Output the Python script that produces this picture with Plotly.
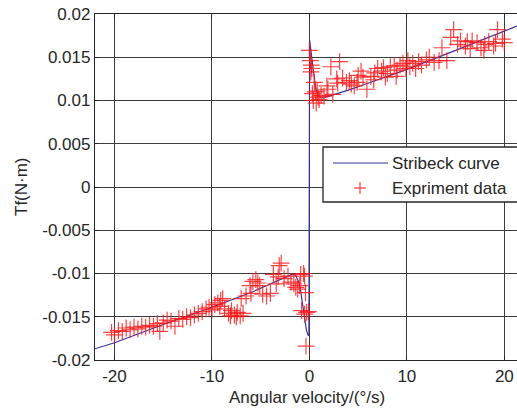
import plotly.graph_objects as go

# Stribeck model curve
curve_x = [-22, -20, -15, -10, -6, -4, -2.5, -1.8, -1.4, -1.1, -0.9, -0.7, -0.5, -0.3, -0.15, -0.05,
           0.02, 0.15, 0.35, 0.55, 0.75, 1.0, 1.4, 2, 4, 6, 10, 15, 21.3]
curve_y = [-0.0187, -0.0180, -0.0159, -0.0139, -0.0122, -0.0112, -0.0104, -0.0101, -0.0102, -0.0110,
           -0.0120, -0.0135, -0.0151, -0.0166, -0.0171, -0.0172,
           0.0170, 0.0160, 0.0140, 0.0122, 0.0110, 0.0104, 0.0103, 0.0105, 0.0112, 0.0120, 0.0136,
           0.0158, 0.0186]

# Experiment data, positive velocities
pos_x = [0.0, 0.1, 0.2, 0.25, 0.15, 0.5, 0.6, 0.3, 0.8, 1.0, 0.4, 0.7, 1.2, 0.9, 1.5,
         1.8, 1.9, 2.2, 3.1, 2.4, 2.8, 2.9, 3.4, 3.8, 4.1, 4.3, 4.6, 4.9, 5.0, 5.3, 5.5, 5.9,
         6.3, 6.7, 6.6, 7.0, 7.4, 7.6, 8.0, 8.3, 8.7, 9.0, 9.3, 9.6, 9.9, 8.9, 7.8,
         10.1, 10.3, 10.6, 10.9, 11.2, 11.5, 12.0, 12.3, 12.8, 13.3, 13.6, 14.1, 14.5, 14.8,
         15.2, 15.5, 16.0, 16.2, 16.7, 17.2, 17.6, 18.0, 18.4, 18.9, 19.3, 19.8, 20.0, 16.5,
         17.9, 19.1]
pos_y = [0.0158, 0.0146, 0.0141, 0.0137, 0.0133, 0.0121, 0.0110, 0.0108, 0.0111, 0.0101,
         0.0100, 0.0097, 0.0106, 0.0104, 0.0105,
         0.0117, 0.0113, 0.0139, 0.0145, 0.0107, 0.0125, 0.0120, 0.0126, 0.0121, 0.0123,
         0.0119, 0.0117, 0.0121, 0.0129, 0.0134, 0.0127, 0.0113,
         0.0128, 0.0132, 0.0124, 0.0137, 0.0134, 0.0138, 0.0131, 0.0139, 0.0140, 0.0135,
         0.0141, 0.0143, 0.0137, 0.0128, 0.0127,
         0.0146, 0.0139, 0.0143, 0.0137, 0.0145, 0.0141, 0.0147, 0.0150, 0.0144, 0.0146,
         0.0161, 0.0146, 0.0173, 0.0182,
         0.0165, 0.0169, 0.0163, 0.0168, 0.0169, 0.0167, 0.0161, 0.0165, 0.0168, 0.0163,
         0.0182, 0.0171, 0.0167, 0.0160, 0.0158, 0.0166]

# Experiment data, negative velocities
neg_x = [-20.3, -20.0, -19.6, -19.2, -18.8, -18.4, -18.0, -17.6, -17.2, -16.8, -16.4, -16.0,
         -15.6, -15.35, -15.0, -14.6, -14.2, -13.8, -13.4, -13.0, -12.6, -12.2, -11.8, -11.4,
         -11.0, -10.6, -10.3, -10.0, -9.7, -9.4, -9.1, -8.9, -9.2,
         -8.7, -8.3, -8.0, -7.7, -7.4, -7.1, -6.8, -8.1, -7.5,
         -7.0, -6.5, -6.1, -5.8, -5.5, -5.3, -5.1, -6.0, -4.8, -4.4, -4.0,
         -3.4, -3.2, -2.9, -3.1, -3.7, -2.6, -2.2, -1.9, -1.6, -1.4, -1.2, -1.0,
         -0.9, -0.6, -0.5, -0.4, -0.8, -0.5, -0.3, -0.1, -0.35]
neg_y = [-0.0168, -0.0171, -0.0166, -0.0167, -0.0163, -0.0165, -0.0162, -0.0164, -0.0161,
         -0.0162, -0.0160, -0.0161, -0.0158, -0.0167, -0.0157, -0.0154, -0.0155, -0.0161,
         -0.0152, -0.0153, -0.0150, -0.0151, -0.0148, -0.0146, -0.0144, -0.0141, -0.0139,
         -0.0142, -0.0136, -0.0134, -0.0131, -0.0129, -0.0138,
         -0.0141, -0.0146, -0.0143, -0.0148, -0.0145, -0.0149, -0.0146, -0.0149, -0.0150,
         -0.0129, -0.0126, -0.0114, -0.0109, -0.0107, -0.0111, -0.0114, -0.0123, -0.0124,
         -0.0126, -0.0123,
         -0.0112, -0.0104, -0.0088, -0.0091, -0.0101, -0.0106, -0.0103, -0.0110, -0.0112,
         -0.0116, -0.0118, -0.0114,
         -0.0101, -0.0100, -0.0103, -0.0122, -0.0143, -0.0147, -0.0145, -0.0144, -0.0184]

x_ticks = [-20, -10, 0, 10, 20]
x_tick_labels = ["-20", "-10", "0", "10", "20"]
y_ticks = [0.02, 0.015, 0.01, 0.005, 0, -0.005, -0.01, -0.015, -0.02]
y_tick_labels = ["0.02", "0.015", "0.01", "0.005", "0", "-0.005", "-0.01", "-0.015", "-0.02"]
legend_names = ["Stribeck curve", "Expriment data"]

W, H = 517, 411
ML, MT, MB, MR = 95, 14, 51, 0
PW, PH = W - ML - MR, H - MT - MB

def px(x):
    return (x - ML) / PW

def py(y):
    return (H - MB - y) / PH

line_color = "#34349e"
mark_color = "rgba(255,20,20,0.8)"
ink = "#262626"
FAM = "Liberation Sans, Arial, sans-serif"
font = dict(family=FAM, size=17, color=ink)

fig = go.Figure()
fig.add_trace(go.Scatter(
    x=curve_x, y=curve_y, mode="lines", name=legend_names[0],
    line=dict(color=line_color, width=1.2), showlegend=False))
fig.add_trace(go.Scatter(
    x=pos_x + neg_x, y=pos_y + neg_y, mode="markers", name=legend_names[1],
    marker=dict(symbol="cross-thin", size=12, line=dict(color=mark_color, width=1.2)),
    showlegend=False))

# hand-drawn legend box (the reference legend runs off the right edge)
shapes = [
    dict(type="rect", xref="paper", yref="paper", x0=px(323), x1=px(540), y0=py(202), y1=py(147),
         fillcolor="white", line=dict(color=ink, width=1.3), layer="above"),
    dict(type="line", xref="paper", yref="paper", x0=px(333), x1=px(388), y0=py(163), y1=py(163),
         line=dict(color=line_color, width=1.2), layer="above"),
    dict(type="line", xref="paper", yref="paper", x0=px(354), x1=px(366), y0=py(188), y1=py(188),
         line=dict(color=mark_color, width=1.2), layer="above"),
    dict(type="line", xref="paper", yref="paper", x0=px(360), x1=px(360), y0=py(182), y1=py(194),
         line=dict(color=mark_color, width=1.2), layer="above"),
]
annotations = [
    dict(text=legend_names[0], xref="paper", yref="paper", x=px(390), y=py(163),
         xanchor="left", yanchor="middle", showarrow=False, font=font),
    dict(text=legend_names[1], xref="paper", yref="paper", x=px(390), y=py(188),
         xanchor="left", yanchor="middle", showarrow=False, font=font),
    dict(text="Angular velocity/(°/s)", xref="paper", yref="paper", x=px(307), y=py(397),
         xanchor="center", yanchor="middle", showarrow=False, font=font),
    dict(text="Tf(N·m)", xref="paper", yref="paper", x=px(21), y=py(187), textangle=-90,
         xanchor="center", yanchor="middle", showarrow=False, font=font),
]

fig.update_layout(
    width=W, height=H,
    margin=dict(l=ML, r=MR, t=MT, b=MB, autoexpand=False),
    paper_bgcolor="white", plot_bgcolor="white",
    font=font, showlegend=False,
    shapes=shapes, annotations=annotations,
)
fig.update_xaxes(
    range=[-22, 21.3], tickvals=x_ticks, ticktext=x_tick_labels, automargin=False,
    showgrid=True, gridcolor="#3c3c3c", gridwidth=1, zeroline=False,
    showline=True, linecolor=ink, linewidth=1.3, mirror="ticks",
    ticks="inside", ticklen=4, tickcolor=ink, tickfont=font)
fig.update_yaxes(
    range=[-0.02, 0.02], tickvals=y_ticks, ticktext=y_tick_labels, automargin=False,
    showgrid=True, gridcolor="#3c3c3c", gridwidth=1, zeroline=False,
    showline=True, linecolor=ink, linewidth=1.3,
    ticks="inside", ticklen=4, tickcolor=ink, tickfont=font)

fig.write_html(
    "out.html",
    config={"displayModeBar": False},
    post_script="document.body.style.margin='0';document.body.style.overflow='hidden';")
